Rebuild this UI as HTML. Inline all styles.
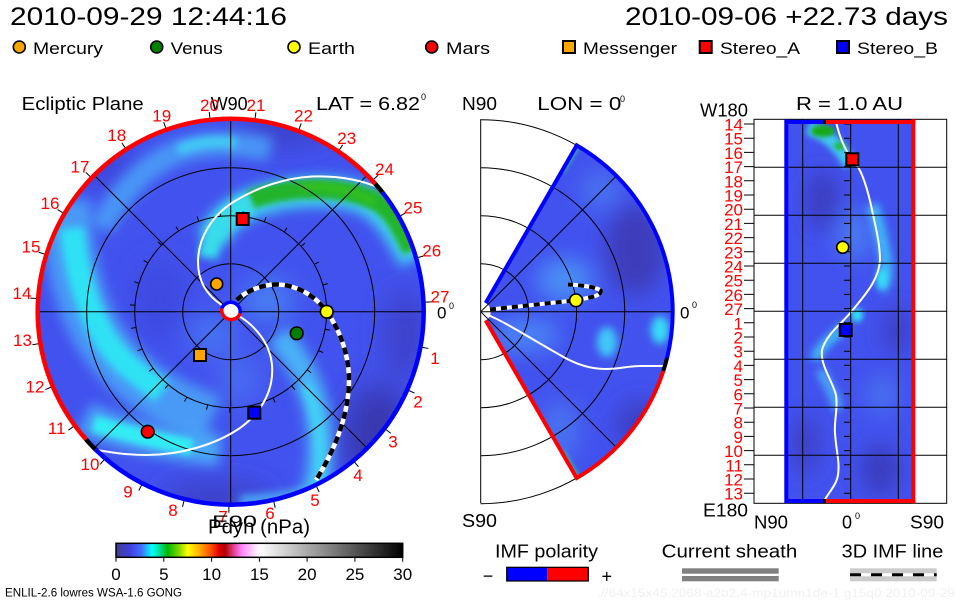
<!DOCTYPE html>
<html><head><meta charset="utf-8">
<style>
html,body{margin:0;padding:0;background:#fff;}
svg{display:block;}
text{font-family:"Liberation Sans",sans-serif;}
</style></head>
<body>
<svg width="960" height="600" viewBox="0 0 960 600" xmlns="http://www.w3.org/2000/svg">
<defs>
 <clipPath id="cL"><circle cx="230.7" cy="311.7" r="192"/></clipPath>
 <clipPath id="cM"><path d="M485.7,303 L576.7,145.4 A192,192 0 0 1 576.7,478 L485.7,320.4 A10,10 0 0 0 485.7,303Z"/></clipPath>
 <clipPath id="cR"><rect x="786.7" y="119.3" width="128" height="384"/></clipPath>
 <filter id="f2" filterUnits="userSpaceOnUse" x="0" y="0" width="960" height="600"><feGaussianBlur stdDeviation="2"/></filter>
 <filter id="f3" filterUnits="userSpaceOnUse" x="0" y="0" width="960" height="600"><feGaussianBlur stdDeviation="3"/></filter>
 <filter id="f4" filterUnits="userSpaceOnUse" x="0" y="0" width="960" height="600"><feGaussianBlur stdDeviation="4"/></filter>
 <filter id="f6" filterUnits="userSpaceOnUse" x="0" y="0" width="960" height="600"><feGaussianBlur stdDeviation="6"/></filter>
 <filter id="f10" filterUnits="userSpaceOnUse" x="0" y="0" width="960" height="600"><feGaussianBlur stdDeviation="10"/></filter>
 <filter id="f14" filterUnits="userSpaceOnUse" x="0" y="0" width="960" height="600"><feGaussianBlur stdDeviation="14"/></filter>
 <linearGradient id="cb" x1="0" x2="1" y1="0" y2="0">
  <stop offset="0" stop-color="#404090"/>
  <stop offset="0.05" stop-color="#4040e0"/>
  <stop offset="0.09" stop-color="#4070ff"/>
  <stop offset="0.125" stop-color="#00ffff"/>
  <stop offset="0.15" stop-color="#00e0a0"/>
  <stop offset="0.18" stop-color="#00b800"/>
  <stop offset="0.22" stop-color="#80d800"/>
  <stop offset="0.25" stop-color="#ffff00"/>
  <stop offset="0.29" stop-color="#ffb000"/>
  <stop offset="0.33" stop-color="#ff5000"/>
  <stop offset="0.36" stop-color="#e00000"/>
  <stop offset="0.38" stop-color="#b00000"/>
  <stop offset="0.41" stop-color="#e04090"/>
  <stop offset="0.44" stop-color="#ff88ff"/>
  <stop offset="0.50" stop-color="#ffffff"/>
  <stop offset="1" stop-color="#000000"/>
 </linearGradient>
</defs>
<rect width="960" height="600" fill="#fff"/>

<!-- Titles -->
<text x="10" y="25" font-size="25" textLength="277" lengthAdjust="spacingAndGlyphs">2010-09-29 12:44:16</text>
<text x="625" y="25" font-size="25" textLength="323" lengthAdjust="spacingAndGlyphs">2010-09-06 +22.73 days</text>

<!-- Legend -->
<g stroke="#000" stroke-width="1.6">
 <circle cx="19.3" cy="47" r="6" fill="#ffa500"/>
 <circle cx="156.7" cy="47" r="6" fill="#008000"/>
 <circle cx="294" cy="47" r="6" fill="#ffff00"/>
 <circle cx="431.7" cy="47" r="6" fill="#ff0000"/>
 <rect x="563" y="41" width="12" height="12" fill="#ffa500" stroke-width="2"/>
 <rect x="699.7" y="41" width="12" height="12" fill="#ff0000" stroke-width="2"/>
 <rect x="837" y="41" width="12" height="12" fill="#0000ff" stroke-width="2"/>
</g>
<g font-size="17">
 <text x="33" y="54" textLength="70" lengthAdjust="spacingAndGlyphs">Mercury</text>
 <text x="170.7" y="54" textLength="52" lengthAdjust="spacingAndGlyphs">Venus</text>
 <text x="308" y="54" textLength="47" lengthAdjust="spacingAndGlyphs">Earth</text>
 <text x="446" y="54" textLength="44" lengthAdjust="spacingAndGlyphs">Mars</text>
 <text x="583" y="54" textLength="94" lengthAdjust="spacingAndGlyphs">Messenger</text>
 <text x="720" y="54" textLength="80" lengthAdjust="spacingAndGlyphs">Stereo_A</text>
 <text x="857" y="54" textLength="81" lengthAdjust="spacingAndGlyphs">Stereo_B</text>
</g>

<!-- Subtitles -->
<g font-size="18">
 <text x="21.7" y="110" textLength="122" lengthAdjust="spacingAndGlyphs">Ecliptic Plane</text>
 <text x="210.7" y="110" textLength="37" lengthAdjust="spacingAndGlyphs">W90</text>
 <text x="316" y="110" textLength="104" lengthAdjust="spacingAndGlyphs">LAT = 6.82</text>
 <text x="462" y="110" textLength="35" lengthAdjust="spacingAndGlyphs">N90</text>
 <text x="537.3" y="110" textLength="84" lengthAdjust="spacingAndGlyphs">LON = 0</text>
 <text x="700" y="116.7" textLength="48" lengthAdjust="spacingAndGlyphs">W180</text>
 <text x="796" y="110" textLength="107" lengthAdjust="spacingAndGlyphs">R = 1.0 AU</text>
</g>
<g font-size="9">
 <text x="421" y="100">0</text>
 <text x="620" y="102">0</text>
</g>

<!-- ================= LEFT DISK ================= -->
<g clip-path="url(#cL)">
 <rect x="30" y="110" width="410" height="410" fill="#4252ee"/>
 <g filter="url(#f14)">
  <ellipse cx="378" cy="440" rx="35" ry="55" fill="#3838b0"/>
  <ellipse cx="285" cy="128" rx="45" ry="14" fill="#3a3cc0"/>
  <ellipse cx="215" cy="498" rx="55" ry="14" fill="#3a3cc0"/>
  <ellipse cx="405" cy="335" rx="20" ry="45" fill="#3c40c8"/>
  <ellipse cx="100" cy="160" rx="30" ry="25" fill="#3c44d8"/>
  <ellipse cx="160" cy="300" rx="25" ry="40" fill="#3e48e0"/>
  <ellipse cx="268" cy="300" rx="24" ry="18" fill="#4a8cf4"/>
  <ellipse cx="212" cy="335" rx="20" ry="16" fill="#4a84f4"/>
  <ellipse cx="240" cy="380" rx="20" ry="25" fill="#4a6ef2"/>
 </g>
 <!-- upper-left light arm -->
 <path d="M270,150 C240,142 205,142 178,152 S125,185 100,228" stroke="#4896f6" stroke-width="24" fill="none" filter="url(#f6)"/>
 <path d="M236,143 C215,140 195,143 178,150" stroke="#40d0f4" stroke-width="10" fill="none" filter="url(#f4)"/>
 <!-- left cyan band -->
 <path d="M66,200 C68,260 80,310 105,345 S160,400 212,420" stroke="#4a9af6" stroke-width="50" fill="none" filter="url(#f6)"/>
 <path d="M72,228 C75,262 84,300 100,330 S135,372 162,392" stroke="#2ee2f4" stroke-width="24" fill="none" filter="url(#f4)"/>
 <!-- lower left cyan band -->
 <path d="M85,418 C110,430 150,443 220,450" stroke="#4aa8f6" stroke-width="32" fill="none" filter="url(#f6)"/>
 <path d="M94,424 C120,431 150,440 192,447" stroke="#30ecf4" stroke-width="16" fill="none" filter="url(#f3)"/>
 <!-- green band -->
 <path d="M212,240 C226,206 270,192 320,192 S386,206 414,260" stroke="#40d0f2" stroke-width="30" fill="none" filter="url(#f6)"/>
 <path d="M250,200 C285,187 330,186 360,195 S395,218 412,250" stroke="#22b42a" stroke-width="19" fill="none" filter="url(#f3)"/>
 <path d="M300,187 C330,185 355,190 375,203" stroke="#30c020" stroke-width="8" fill="none" filter="url(#f3)"/>
 <!-- inner cyan of spiral 1 -->
 <path d="M250,203 C228,212 212,230 208,258" stroke="#38dcea" stroke-width="20" fill="none" filter="url(#f4)"/>
 <!-- lower right band -->
 <path d="M278,335 C300,360 318,395 320,435 S316,480 312,505" stroke="#48b0f6" stroke-width="26" fill="none" filter="url(#f6)"/>
 <path d="M306,385 C316,408 320,432 320,455 S317,480 315,495" stroke="#40d4f6" stroke-width="10" fill="none" filter="url(#f4)"/>
 <path d="M240,500 C270,500 295,495 315,488" stroke="#48a8f4" stroke-width="10" fill="none" filter="url(#f4)"/>
</g>

<!-- grid in left disk -->
<g stroke="#000" stroke-width="1" fill="none">
 <circle cx="230.7" cy="311.7" r="48"/>
 <circle cx="230.7" cy="311.7" r="96"/>
 <circle cx="230.7" cy="311.7" r="144"/>
 <line x1="36.7" y1="311.7" x2="424.7" y2="311.7"/>
 <line x1="230.7" y1="117.7" x2="230.7" y2="505.7"/>
 <line x1="94.9" y1="175.9" x2="366.5" y2="447.5"/>
 <line x1="94.9" y1="447.5" x2="366.5" y2="175.9"/>
</g>
<g transform="translate(230.7,311.7)" stroke="#000" stroke-width="1">
 <line x1="96" y1="0" x2="101" y2="0" transform="rotate(-2.8)"/>
 <line x1="96" y1="0" x2="101" y2="0" transform="rotate(-16.13)"/>
 <line x1="96" y1="0" x2="101" y2="0" transform="rotate(-29.47)"/>
 <line x1="96" y1="0" x2="101" y2="0" transform="rotate(-42.8)"/>
 <line x1="96" y1="0" x2="101" y2="0" transform="rotate(-56.13)"/>
 <line x1="96" y1="0" x2="101" y2="0" transform="rotate(-69.47)"/>
 <line x1="96" y1="0" x2="101" y2="0" transform="rotate(-82.8)"/>
 <line x1="96" y1="0" x2="101" y2="0" transform="rotate(-96.13)"/>
 <line x1="96" y1="0" x2="101" y2="0" transform="rotate(-109.47)"/>
 <line x1="96" y1="0" x2="101" y2="0" transform="rotate(-122.8)"/>
 <line x1="96" y1="0" x2="101" y2="0" transform="rotate(-136.13)"/>
 <line x1="96" y1="0" x2="101" y2="0" transform="rotate(-149.47)"/>
 <line x1="96" y1="0" x2="101" y2="0" transform="rotate(-162.8)"/>
 <line x1="96" y1="0" x2="101" y2="0" transform="rotate(-176.13)"/>
 <line x1="96" y1="0" x2="101" y2="0" transform="rotate(-189.47)"/>
 <line x1="96" y1="0" x2="101" y2="0" transform="rotate(-202.8)"/>
 <line x1="96" y1="0" x2="101" y2="0" transform="rotate(-216.13)"/>
 <line x1="96" y1="0" x2="101" y2="0" transform="rotate(-229.47)"/>
 <line x1="96" y1="0" x2="101" y2="0" transform="rotate(-242.8)"/>
 <line x1="96" y1="0" x2="101" y2="0" transform="rotate(-256.13)"/>
 <line x1="96" y1="0" x2="101" y2="0" transform="rotate(-269.47)"/>
 <line x1="96" y1="0" x2="101" y2="0" transform="rotate(-282.8)"/>
 <line x1="96" y1="0" x2="101" y2="0" transform="rotate(-296.13)"/>
 <line x1="96" y1="0" x2="101" y2="0" transform="rotate(-309.47)"/>
 <line x1="96" y1="0" x2="101" y2="0" transform="rotate(-322.8)"/>
 <line x1="96" y1="0" x2="101" y2="0" transform="rotate(-336.13)"/>
 <line x1="96" y1="0" x2="101" y2="0" transform="rotate(-349.47)"/>
 <!-- outer ticks -->
 <line x1="195" y1="0" x2="201" y2="0" transform="rotate(-2.8)"/>
 <line x1="195" y1="0" x2="201" y2="0" transform="rotate(-16.13)"/>
 <line x1="195" y1="0" x2="201" y2="0" transform="rotate(-29.47)"/>
 <line x1="195" y1="0" x2="201" y2="0" transform="rotate(-42.8)"/>
 <line x1="195" y1="0" x2="201" y2="0" transform="rotate(-56.13)"/>
 <line x1="195" y1="0" x2="201" y2="0" transform="rotate(-69.47)"/>
 <line x1="195" y1="0" x2="201" y2="0" transform="rotate(-82.8)"/>
 <line x1="195" y1="0" x2="201" y2="0" transform="rotate(-96.13)"/>
 <line x1="195" y1="0" x2="201" y2="0" transform="rotate(-109.47)"/>
 <line x1="195" y1="0" x2="201" y2="0" transform="rotate(-122.8)"/>
 <line x1="195" y1="0" x2="201" y2="0" transform="rotate(-136.13)"/>
 <line x1="195" y1="0" x2="201" y2="0" transform="rotate(-149.47)"/>
 <line x1="195" y1="0" x2="201" y2="0" transform="rotate(-162.8)"/>
 <line x1="195" y1="0" x2="201" y2="0" transform="rotate(-176.13)"/>
 <line x1="195" y1="0" x2="201" y2="0" transform="rotate(-189.47)"/>
 <line x1="195" y1="0" x2="201" y2="0" transform="rotate(-202.8)"/>
 <line x1="195" y1="0" x2="201" y2="0" transform="rotate(-216.13)"/>
 <line x1="195" y1="0" x2="201" y2="0" transform="rotate(-229.47)"/>
 <line x1="195" y1="0" x2="201" y2="0" transform="rotate(-242.8)"/>
 <line x1="195" y1="0" x2="201" y2="0" transform="rotate(-256.13)"/>
 <line x1="195" y1="0" x2="201" y2="0" transform="rotate(-269.47)"/>
 <line x1="195" y1="0" x2="201" y2="0" transform="rotate(-282.8)"/>
 <line x1="195" y1="0" x2="201" y2="0" transform="rotate(-296.13)"/>
 <line x1="195" y1="0" x2="201" y2="0" transform="rotate(-309.47)"/>
 <line x1="195" y1="0" x2="201" y2="0" transform="rotate(-322.8)"/>
 <line x1="195" y1="0" x2="201" y2="0" transform="rotate(-336.13)"/>
 <line x1="195" y1="0" x2="201" y2="0" transform="rotate(-349.47)"/>
</g>

<!-- white current sheet spirals -->
<g stroke="#fff" stroke-width="2" fill="none">
 <path d="M221.7,305 C208,296 198,282 198,262 C198,238 212,215 235,201 C258,187 285,178 312,176.5 C340,175.5 362,180 382,189"/>
 <path d="M240,316.7 C255,326 270,343 272,365 C274,390 262,412 240,428 C215,445 180,455 146,455 C125,455 108,452 92,449"/>
</g>
<!-- IMF dashed line -->
<path d="M236.7,300 C245,292 260,285 275,284.5 C295,284 315,295 326.7,311.7 C340,330 349,355 349,380 C349,410 338,445 316,480" stroke="#fff" stroke-width="4.5" fill="none"/>
<path d="M236.7,300 C245,292 260,285 275,284.5 C295,284 315,295 326.7,311.7 C340,330 349,355 349,380 C349,410 338,445 316,480" stroke="#000" stroke-width="4.5" fill="none" stroke-dasharray="7 6"/>

<!-- outer ring -->
<g fill="none" stroke-width="4.5">
 <path d="M375.2,183.8 A193,193 0 0 0 230.7,118.7 A193,193 0 0 0 85.9,439.3" stroke="#ff0000"/>
 <path d="M85.9,439.3 A193,193 0 0 0 95.4,449.4" stroke="#000"/>
 <path d="M95.4,449.4 A193,193 0 0 0 230.7,504.7 A193,193 0 0 0 423.7,311.7 A193,193 0 0 0 382.4,192.3" stroke="#0000ff"/>
 <path d="M382.4,192.3 A193,193 0 0 0 375.2,183.8" stroke="#000"/>
</g>

<!-- sun -->
<circle cx="230.7" cy="311.7" r="8" fill="#fff"/>
<path d="M221.8,308.5 A9.5,9.5 0 0 1 240.1,313.3" stroke="#0000ff" stroke-width="3.5" fill="none"/>
<path d="M240.1,313.3 A9.5,9.5 0 0 1 221.8,308.5" stroke="#ff0000" stroke-width="3.5" fill="none"/>

<!-- planets / spacecraft -->
<g stroke="#000" stroke-width="1.6">
 <rect x="236.7" y="213" width="12" height="12" fill="#ff0000" stroke-width="2"/>
 <circle cx="216.7" cy="284" r="6" fill="#ffa500"/>
 <circle cx="326.7" cy="311.7" r="6.3" fill="#ffff00"/>
 <circle cx="296.7" cy="333.3" r="6.3" fill="#008000"/>
 <rect x="194" y="349" width="12" height="12" fill="#ffa500" stroke-width="2"/>
 <rect x="248.3" y="406.7" width="12" height="12" fill="#0000ff" stroke-width="2"/>
 <circle cx="147.7" cy="431.7" r="6.3" fill="#ff0000"/>
</g>

<!-- red labels around disk -->
<g font-size="17" fill="#ff0000" text-anchor="middle">
 <text x="161.7" y="121.7">19</text>
 <text x="209.5" y="111">20</text>
 <text x="256" y="111">21</text>
 <text x="303.5" y="121.7">22</text>
 <text x="346.7" y="144">23</text>
 <text x="384.5" y="175">24</text>
 <text x="413" y="213.3">25</text>
 <text x="431.7" y="256.7">26</text>
 <text x="440" y="302.7">27</text>
 <text x="435" y="364">1</text>
 <text x="418" y="407.7">2</text>
 <text x="393" y="447.7">3</text>
 <text x="358" y="481">4</text>
 <text x="315" y="506">5</text>
 <text x="270" y="519">6</text>
 <text x="223" y="522.7">7</text>
 <text x="173" y="516">8</text>
 <text x="128" y="497.7">9</text>
 <text x="90" y="470">10</text>
 <text x="56.7" y="434">11</text>
 <text x="35" y="392.7">12</text>
 <text x="22.5" y="346">13</text>
 <text x="22" y="299">14</text>
 <text x="31" y="252.7">15</text>
 <text x="50" y="209">16</text>
 <text x="80" y="172.7">17</text>
 <text x="116.7" y="141">18</text>
</g>
<text x="437" y="318.3" font-size="17">0</text>
<text x="449" y="309" font-size="9">0</text>
<text x="212" y="527" font-size="17" textLength="45" lengthAdjust="spacingAndGlyphs">E90</text>
<text x="208" y="533.3" font-size="20" textLength="102" lengthAdjust="spacingAndGlyphs">Pdyn (nPa)</text>

<!-- ================= MIDDLE WEDGE ================= -->
<g clip-path="url(#cM)">
 <rect x="480" y="140" width="200" height="345" fill="#4252ee"/>
 <g filter="url(#f10)">
  <ellipse cx="635" cy="250" rx="30" ry="45" fill="#3c3cbc"/>
  <ellipse cx="640" cy="425" rx="25" ry="25" fill="#3c40c8"/>
  <ellipse cx="565" cy="280" rx="28" ry="22" fill="#4a8cf6"/>
  <ellipse cx="525" cy="335" rx="35" ry="18" fill="#4a80f4"/>
  <ellipse cx="560" cy="430" rx="20" ry="30" fill="#4a70f0"/>
  <ellipse cx="600" cy="190" rx="20" ry="20" fill="#4870f0"/>
 </g>
 <ellipse cx="660" cy="330" rx="9" ry="14" fill="#38dcf6" filter="url(#f4)"/>
 <ellipse cx="607" cy="342" rx="10" ry="15" fill="#40c8f6" filter="url(#f4)"/>
 <line x1="562" y1="172" x2="578" y2="146" stroke="#30c0a0" stroke-width="4" filter="url(#f2)"/>
 <line x1="562" y1="451" x2="578" y2="477" stroke="#30c0a0" stroke-width="4" filter="url(#f2)"/>
</g>
<g stroke="#000" stroke-width="1" fill="none">
 <line x1="480.7" y1="119.3" x2="480.7" y2="503.3"/>
 <path d="M480.7,263.7 A48,48 0 0 1 480.7,359.7"/>
 <path d="M480.7,215.7 A96,96 0 0 1 480.7,407.7"/>
 <path d="M480.7,167.7 A144,144 0 0 1 480.7,455.7"/>
 <path d="M480.7,119.7 A192,192 0 0 1 480.7,503.7"/>
 <line x1="480.7" y1="311.7" x2="672.7" y2="311.7"/>
 <line x1="480.7" y1="311.7" x2="616.5" y2="175.9"/>
 <line x1="480.7" y1="311.7" x2="616.5" y2="447.5"/>
</g>
<path d="M488,315 C505,322 530,338 560,355 C575,364 590,369 605,369 C620,369 628,366 640,366 L665,366" stroke="#fff" stroke-width="2" fill="none"/>
<path d="M490,309.5 L576,300.3 L592,297 C600,295 604,291 598,289 C590,286 578,285 568,284.5" stroke="#fff" stroke-width="4" fill="none"/>
<path d="M490,309.5 L576,300.3 L592,297 C600,295 604,291 598,289 C590,286 578,285 568,284.5" stroke="#000" stroke-width="4" fill="none" stroke-dasharray="6 5"/>
<g fill="none" stroke-width="4">
 <path d="M485.7,303 L576.7,145.4 A192,192 0 0 1 667,358.1" stroke="#0000ff"/>
 <path d="M667,358.1 A192,192 0 0 1 663.3,371" stroke="#000"/>
 <path d="M663.3,371 A192,192 0 0 1 576.7,478 L485.7,320.4" stroke="#ff0000"/>
</g>
<circle cx="576" cy="300.3" r="6.3" fill="#ffff00" stroke="#000" stroke-width="1.6"/>
<text x="680" y="318.3" font-size="17">0</text>
<text x="692" y="308" font-size="9">0</text>
<text x="462" y="527" font-size="18" textLength="35" lengthAdjust="spacingAndGlyphs">S90</text>

<!-- ================= RIGHT PANEL ================= -->
<g clip-path="url(#cR)">
 <rect x="786" y="119" width="130" height="386" fill="#4252ee"/>
 <g filter="url(#f10)">
  <ellipse cx="822" cy="200" rx="16" ry="30" fill="#3a3cc0"/>
  <ellipse cx="880" cy="470" rx="20" ry="25" fill="#3a3cc0"/>
  <ellipse cx="897" cy="330" rx="14" ry="25" fill="#3c40c8"/>
  <ellipse cx="805" cy="445" rx="14" ry="30" fill="#3c40c8"/>
  <ellipse cx="855" cy="235" rx="18" ry="25" fill="#4a78f2"/>
  <ellipse cx="882" cy="395" rx="15" ry="20" fill="#4870f0"/>
 </g>
 <path d="M808,128 C825,133 840,145 850,165" stroke="#40c8f0" stroke-width="14" fill="none" filter="url(#f3)"/>
 <ellipse cx="823" cy="131" rx="12" ry="6" fill="#18a818" filter="url(#f2)"/>
 <ellipse cx="840" cy="146" rx="6" ry="4" fill="#28b840" filter="url(#f2)"/>
 <path d="M872,205 C880,225 884,250 886,262 C888,275 884,285 880,290" stroke="#40b8f6" stroke-width="12" fill="none" filter="url(#f4)"/>
 <ellipse cx="882" cy="278" rx="5" ry="10" fill="#30e0f4" filter="url(#f3)"/>
 <ellipse cx="857" cy="315" rx="6" ry="7" fill="#30e0f4" filter="url(#f3)"/>
 <path d="M848,325 C835,335 820,345 815,360" stroke="#40c0f6" stroke-width="10" fill="none" filter="url(#f4)"/>
 <path d="M820,370 C828,385 835,395 838,410" stroke="#48a8f6" stroke-width="10" fill="none" filter="url(#f4)"/>
</g>
<path d="M836,122 C840,138 845,152 856.7,165 C862,172 868,190 872,210 C876,228 880,245 880,260 C879,280 865,295 850,313.3 C840,325 826,335 822,350 C820,365 832,380 836,395 C838,410 834,420 835,433 C836,450 840,462 838,475 C836,487 826,495 823.3,503" stroke="#fff" stroke-width="2" fill="none"/>
<g stroke="#000" stroke-width="1" fill="none">
 <rect x="754" y="119.3" width="192.7" height="384"/>
 <line x1="802.7" y1="119.3" x2="802.7" y2="503.3"/>
 <line x1="850.7" y1="119.3" x2="850.7" y2="503.3"/>
 <line x1="898.3" y1="119.3" x2="898.3" y2="503.3"/>
 <path d="M754,167.3H946.7M754,215.3H946.7M754,263.3H946.7M754,311.3H946.7M754,359.3H946.7M754,407.3H946.7M754,455.3H946.7"/>
 <path d="M744,124h10M744,138.2h10M744,152.4h10M744,166.6h10M744,180.8h10M744,195h10M744,209.2h10M744,223.4h10M744,237.6h10M744,251.8h10M744,266h10M744,280.2h10M744,294.4h10M744,308.6h10M744,322.8h10M744,337h10M744,351.2h10M744,365.4h10M744,379.6h10M744,393.8h10M744,408h10M744,422.2h10M744,436.4h10M744,450.6h10M744,464.8h10M744,479h10M744,493.2h10"/>
 <path d="M844,124h6.7M844,138.2h6.7M844,152.4h6.7M844,166.6h6.7M844,180.8h6.7M844,195h6.7M844,209.2h6.7M844,223.4h6.7M844,237.6h6.7M844,251.8h6.7M844,266h6.7M844,280.2h6.7M844,294.4h6.7M844,308.6h6.7M844,322.8h6.7M844,337h6.7M844,351.2h6.7M844,365.4h6.7M844,379.6h6.7M844,393.8h6.7M844,408h6.7M844,422.2h6.7M844,436.4h6.7M844,450.6h6.7M844,464.8h6.7M844,479h6.7M844,493.2h6.7"/>
</g>
<g stroke-width="4" fill="none">
 <line x1="786.3" y1="119.3" x2="786.3" y2="503.3" stroke="#0000ff"/>
 <line x1="913.3" y1="119.3" x2="913.3" y2="503.3" stroke="#ff0000"/>
 <line x1="786.3" y1="122" x2="823" y2="122" stroke="#0000ff"/>
 <line x1="823" y1="122" x2="826" y2="122" stroke="#000"/>
 <line x1="826" y1="122" x2="915.3" y2="122" stroke="#ff0000"/>
 <line x1="786.3" y1="501" x2="823" y2="501" stroke="#0000ff"/>
 <line x1="823" y1="501" x2="826" y2="501" stroke="#000"/>
 <line x1="826" y1="501" x2="915.3" y2="501" stroke="#ff0000"/>
</g>
<g stroke="#000" stroke-width="2">
 <rect x="846.3" y="153.3" width="12" height="12" fill="#ff0000"/>
 <circle cx="842.7" cy="247.3" r="6" fill="#ffff00" stroke-width="1.6"/>
 <rect x="839.7" y="324" width="12" height="12" fill="#0000ff"/>
</g>
<g font-size="17" fill="#ff0000" text-anchor="end">
 <text x="743" y="130.5">14</text>
 <text x="743" y="144.7">15</text>
 <text x="743" y="158.9">16</text>
 <text x="743" y="173.1">17</text>
 <text x="743" y="187.3">18</text>
 <text x="743" y="201.5">19</text>
 <text x="743" y="215.7">20</text>
 <text x="743" y="229.9">21</text>
 <text x="743" y="244.1">22</text>
 <text x="743" y="258.3">23</text>
 <text x="743" y="272.5">24</text>
 <text x="743" y="286.7">25</text>
 <text x="743" y="300.9">26</text>
 <text x="743" y="315.1">27</text>
 <text x="743" y="329.3">1</text>
 <text x="743" y="343.5">2</text>
 <text x="743" y="357.7">3</text>
 <text x="743" y="371.9">4</text>
 <text x="743" y="386.1">5</text>
 <text x="743" y="400.3">6</text>
 <text x="743" y="414.5">7</text>
 <text x="743" y="428.7">8</text>
 <text x="743" y="442.9">9</text>
 <text x="743" y="457.1">10</text>
 <text x="743" y="471.3">11</text>
 <text x="743" y="485.5">12</text>
 <text x="743" y="499.7">13</text>
</g>
<g font-size="18">
 <text x="703" y="516.7" textLength="45" lengthAdjust="spacingAndGlyphs">E180</text>
 <text x="754" y="528.3" textLength="34" lengthAdjust="spacingAndGlyphs">N90</text>
 <text x="842" y="528.3">0</text>
 <text x="910" y="528.3" textLength="34" lengthAdjust="spacingAndGlyphs">S90</text>
</g>
<text x="855" y="519" font-size="9">0</text>

<!-- ================= COLORBAR ================= -->
<rect x="116" y="543.3" width="286.7" height="14" fill="url(#cb)" stroke="#000" stroke-width="1.5"/>
<path d="M116,557.3v4.5M163.8,557.3v4.5M211.6,557.3v4.5M259.4,557.3v4.5M307.1,557.3v4.5M354.9,557.3v4.5M402.7,557.3v4.5" stroke="#000" stroke-width="1"/>
<g font-size="17" text-anchor="middle">
 <text x="116" y="580">0</text>
 <text x="163.8" y="580">5</text>
 <text x="211.6" y="580">10</text>
 <text x="259.4" y="580">15</text>
 <text x="307.1" y="580">20</text>
 <text x="354.9" y="580">25</text>
 <text x="402.7" y="580">30</text>
</g>
<text x="5" y="596.7" font-size="11.5" textLength="177" lengthAdjust="spacingAndGlyphs">ENLIL-2.6 lowres WSA-1.6 GONG</text>

<!-- ================= BOTTOM LEGENDS ================= -->
<g font-size="18">
 <text x="495" y="557.3" textLength="103" lengthAdjust="spacingAndGlyphs">IMF polarity</text>
 <text x="661.7" y="557.3" textLength="135.6" lengthAdjust="spacingAndGlyphs">Current sheath</text>
 <text x="841.7" y="557.3" textLength="101.6" lengthAdjust="spacingAndGlyphs">3D IMF line</text>
 <text x="488" y="582" text-anchor="middle">−</text>
 <text x="606.7" y="582.5" text-anchor="middle">+</text>
</g>
<rect x="506.7" y="567.3" width="40.6" height="13.7" fill="#0000ff"/>
<rect x="547.3" y="567.3" width="41" height="13.7" fill="#ff0000"/>
<rect x="506.7" y="567.3" width="81.6" height="13.7" fill="none" stroke="#000" stroke-width="1.2"/>
<rect x="682" y="568.3" width="96.7" height="5.4" fill="#808080"/>
<rect x="682" y="576" width="96.7" height="5.3" fill="#808080"/>
<rect x="850" y="568.3" width="86.7" height="13" fill="#cccccc"/>
<line x1="850" y1="574.8" x2="936.7" y2="574.8" stroke="#fff" stroke-width="3"/>
<line x1="850" y1="574.8" x2="936.7" y2="574.8" stroke="#000" stroke-width="3" stroke-dasharray="11 10"/>
<text x="597" y="597" font-size="11.5" fill="#f0f0f0" textLength="358" lengthAdjust="spacingAndGlyphs">.//64x15x45.2068-a2b2.4-mp1umn1de-1.g15q0   2010-09-29</text>
</svg>
</body></html>
